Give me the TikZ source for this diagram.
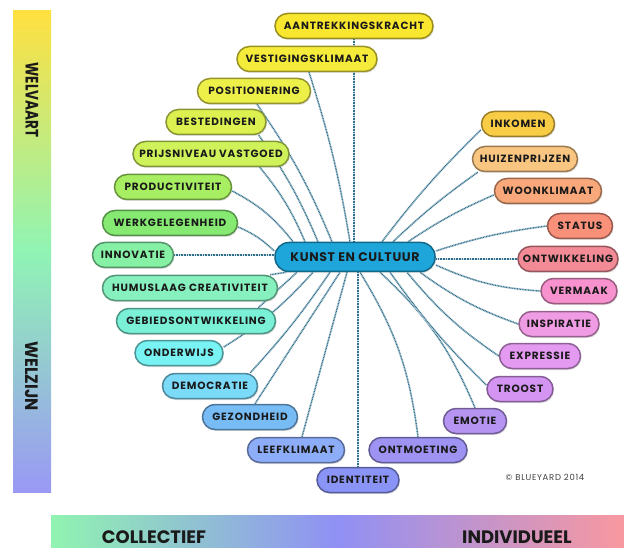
\documentclass[tikz,border=0pt]{standalone}
\usepackage{fontspec}
\setmainfont{Poppins}
\newfontfamily\pillfont{Poppins}[LetterSpace=8]
\newfontfamily\kfont{Poppins}[LetterSpace=5]
\usetikzlibrary{shadows,backgrounds}
\definecolor{txt}{HTML}{1A1A1A}
\definecolor{conn}{HTML}{2F6F8C}
\definecolor{cAan}{HTML}{F9E62E}
\definecolor{cVes}{HTML}{F5EB3B}
\definecolor{cPos}{HTML}{EEF04A}
\definecolor{cBes}{HTML}{DCF050}
\definecolor{cPri}{HTML}{CFF25A}
\definecolor{cPro}{HTML}{A8EE62}
\definecolor{cWer}{HTML}{86EA72}
\definecolor{cInn}{HTML}{86F0A4}
\definecolor{cHum}{HTML}{86F0BE}
\definecolor{cGeb}{HTML}{7AF0D6}
\definecolor{cOnd}{HTML}{78F2F2}
\definecolor{cDem}{HTML}{7ADAF8}
\definecolor{cGez}{HTML}{78BCF6}
\definecolor{cLee}{HTML}{8EADF8}
\definecolor{cIde}{HTML}{8A94F6}
\definecolor{cOnt}{HTML}{9E92F2}
\definecolor{cEmo}{HTML}{B694F2}
\definecolor{cTro}{HTML}{D494F2}
\definecolor{cExp}{HTML}{E49AF0}
\definecolor{cIns}{HTML}{F09CE4}
\definecolor{cVer}{HTML}{F792CF}
\definecolor{cOntw}{HTML}{F28B96}
\definecolor{cSta}{HTML}{F8907A}
\definecolor{cWoo}{HTML}{F8A87A}
\definecolor{cHui}{HTML}{F9C682}
\definecolor{cInk}{HTML}{F8CC44}
\definecolor{cK}{HTML}{1EA6DA}
\definecolor{barTop}{HTML}{FFE040}
\definecolor{barMid}{HTML}{90F4B4}
\definecolor{barBot}{HTML}{9A98F4}
\definecolor{botL}{HTML}{90F4B0}
\definecolor{botM}{HTML}{9090F4}
\definecolor{botR}{HTML}{F898A0}
\tikzset{
  pill/.style={draw=#1!62!black, fill=#1, line width=1.5pt, rounded corners=12.5pt,
    minimum height=25pt, inner sep=0pt, text=txt,
    font=\pillfont\bfseries\fontsize{10.5}{10.5}\selectfont,
    drop shadow={opacity=0.25, shadow xshift=1pt, shadow yshift=-1.5pt}},
  link/.style={draw=conn, line width=1.3pt, dash pattern=on 0.9pt off 0.7pt,
    preaction={draw=conn!18, line width=2.2pt, solid}},
  barlabel/.style={text=txt, inner sep=0pt, font=\bfseries\fontsize{18}{18}\selectfont}
}
\begin{document}
\begin{tikzpicture}[x=1pt,y=-1pt]
\useasboundingbox (0,0) rectangle (624,548);
% bars
\shade[top color=barTop, bottom color=barBot, middle color=barMid] (13,11) rectangle (51,492);
\shade[left color=botL, right color=botR, middle color=botM] (51,515) rectangle (624,548);
\node[barlabel, rotate=-90] (welv) at (32,100) {\scalebox{0.75}[1]{WELVAART}};
\node[barlabel, rotate=-90] (welz) at (32,376) {\scalebox{0.9}[1]{WELZIJN}};
\node[barlabel, anchor=base] (coll) at (154,543) {COLLECTIEF};
\node[barlabel, anchor=base] (indi) at (517,543) {INDIVIDUEEL};
% center
\node[pill=cK, minimum width=160pt, minimum height=29pt, rounded corners=14pt,
  font=\kfont\bfseries\fontsize{12.5}{12.5}\selectfont] (k) at (355,257) {KUNST EN CULTUUR};
% left / top
\node[pill=cAan, minimum width=158pt] (aan) at (354,26) {AANTREKKINGSKRACHT};
\node[pill=cVes, minimum width=140pt] (ves) at (307,59) {VESTIGINGSKLIMAAT};
\node[pill=cPos, minimum width=113pt] (pos) at (254,91) {POSITIONERING};
\node[pill=cBes, minimum width=100pt] (bes) at (216,122) {BESTEDINGEN};
\node[pill=cPri, minimum width=156pt] (pri) at (211,154) {PRIJSNIVEAU VASTGOED};
\node[pill=cPro, minimum width=117pt] (pro) at (173,187) {PRODUCTIVITEIT};
\node[pill=cWer, minimum width=135pt] (wer) at (170,223) {WERKGELEGENHEID};
\node[pill=cInn, minimum width=81pt] (inn) at (133,255) {INNOVATIE};
\node[pill=cHum, minimum width=175pt] (hum) at (190,288) {HUMUSLAAG CREATIVITEIT};
\node[pill=cGeb, minimum width=159pt] (geb) at (196,321) {GEBIEDSONTWIKKELING};
\node[pill=cOnd, minimum width=88pt] (ond) at (179,353) {ONDERWIJS};
\node[pill=cDem, minimum width=95pt] (dem) at (210,386) {DEMOCRATIE};
\node[pill=cGez, minimum width=95pt] (gez) at (250,417) {GEZONDHEID};
\node[pill=cLee, minimum width=97pt] (lee) at (296,450) {LEEFKLIMAAT};
\node[pill=cIde, minimum width=82pt] (ide) at (358,480) {IDENTITEIT};
% right
\node[pill=cOnt, minimum width=98pt] (ont) at (418,450) {ONTMOETING};
\node[pill=cEmo, minimum width=63pt] (emo) at (475,421) {EMOTIE};
\node[pill=cTro, minimum width=66pt] (tro) at (520,389) {TROOST};
\node[pill=cExp, minimum width=81pt] (exp) at (540,356) {EXPRESSIE};
\node[pill=cIns, minimum width=80pt] (ins) at (559,324) {INSPIRATIE};
\node[pill=cVer, minimum width=76pt] (ver) at (579,291) {VERMAAK};
\node[pill=cOntw, minimum width=100pt] (ontw) at (568,259) {ONTWIKKELING};
\node[pill=cSta, minimum width=65pt] (sta) at (580,226) {STATUS};
\node[pill=cWoo, minimum width=107pt] (woo) at (548,191) {WOONKLIMAAT};
\node[pill=cHui, minimum width=105pt] (hui) at (525,159) {HUIZENPRIJZEN};
\node[pill=cInk, minimum width=73pt] (ink) at (518,124) {INKOMEN};
\node[text=black!75, font=\pillfont\fontsize{8.5}{8.5}\selectfont] (copy) at (545,477) {© BLUEYARD 2014};
% connectors
\begin{pgfonlayer}{background}
\draw[link] (aan.south) -- (aan.south |- k.north);
\draw[link] ([xshift=2pt]ves.south) to[bend left=4] ([xshift=-5pt]k.north);
\draw[link] ([xshift=3pt]pos.south) to[bend left=6] ([xshift=-23pt]k.north);
\draw[link] ([xshift=-8pt]bes.south east) to[bend left=6] ([xshift=-37pt]k.north);
\draw[link] ([xshift=-30pt]pri.south east) to[bend left=8] ([xshift=-50pt]k.north);
\draw[link] ([yshift=-4pt]pro.east) to[bend left=12] ([xshift=-62pt]k.north);
\draw[link] ([yshift=-4pt]wer.east) to[bend left=10] ([yshift=6pt]k.west);
\draw[link] (inn.east) -- (inn.east -| k.west);
\draw[link] ([xshift=-8pt]hum.north east) -- ([xshift=12pt]k.south west);
\draw[link] ([xshift=-18pt]geb.north east) -- ([xshift=-58pt]k.south);
\draw[link] ([yshift=6pt]ond.east) to[bend right=8] ([xshift=-42pt]k.south);
\draw[link] ([xshift=-8pt]dem.north east) to[bend right=4] ([xshift=-25pt]k.south);
\draw[link] ([xshift=5pt]gez.north) -- ([xshift=-15pt]k.south);
\draw[link] ([xshift=6pt]lee.north) -- ([xshift=-8pt]k.south);
\draw[link] (ide.north) -- (ide.north |- k.south);
\draw[link] (ont.north) to[bend right=12] ([xshift=5pt]k.south);
\draw[link] (emo.north) to[bend right=12] ([xshift=25pt]k.south);
\draw[link] ([yshift=4pt]tro.west) to[bend left=5] ([xshift=35pt]k.south);
\draw[link] (exp.west) to[bend left=8] ([xshift=52pt]k.south);
\draw[link] (ins.west) to[bend left=8] ([xshift=65pt]k.south);
\draw[link] (ver.west) to[bend left=10] ([yshift=-8pt]k.east);
\draw[link] (ontw.west) -- (ontw.west -| k.east);
\draw[link] (sta.west) to[bend right=5] ([yshift=6pt]k.east);
\draw[link] ([yshift=-4pt]woo.west) to[bend right=5] ([xshift=53pt]k.north);
\draw[link] ([xshift=6pt]hui.south west) to[bend right=4] ([xshift=38pt]k.north);
\draw[link] ([yshift=-6pt]ink.west) to[bend right=4] ([xshift=27pt]k.north);
\end{pgfonlayer}
\end{tikzpicture}
\end{document}
